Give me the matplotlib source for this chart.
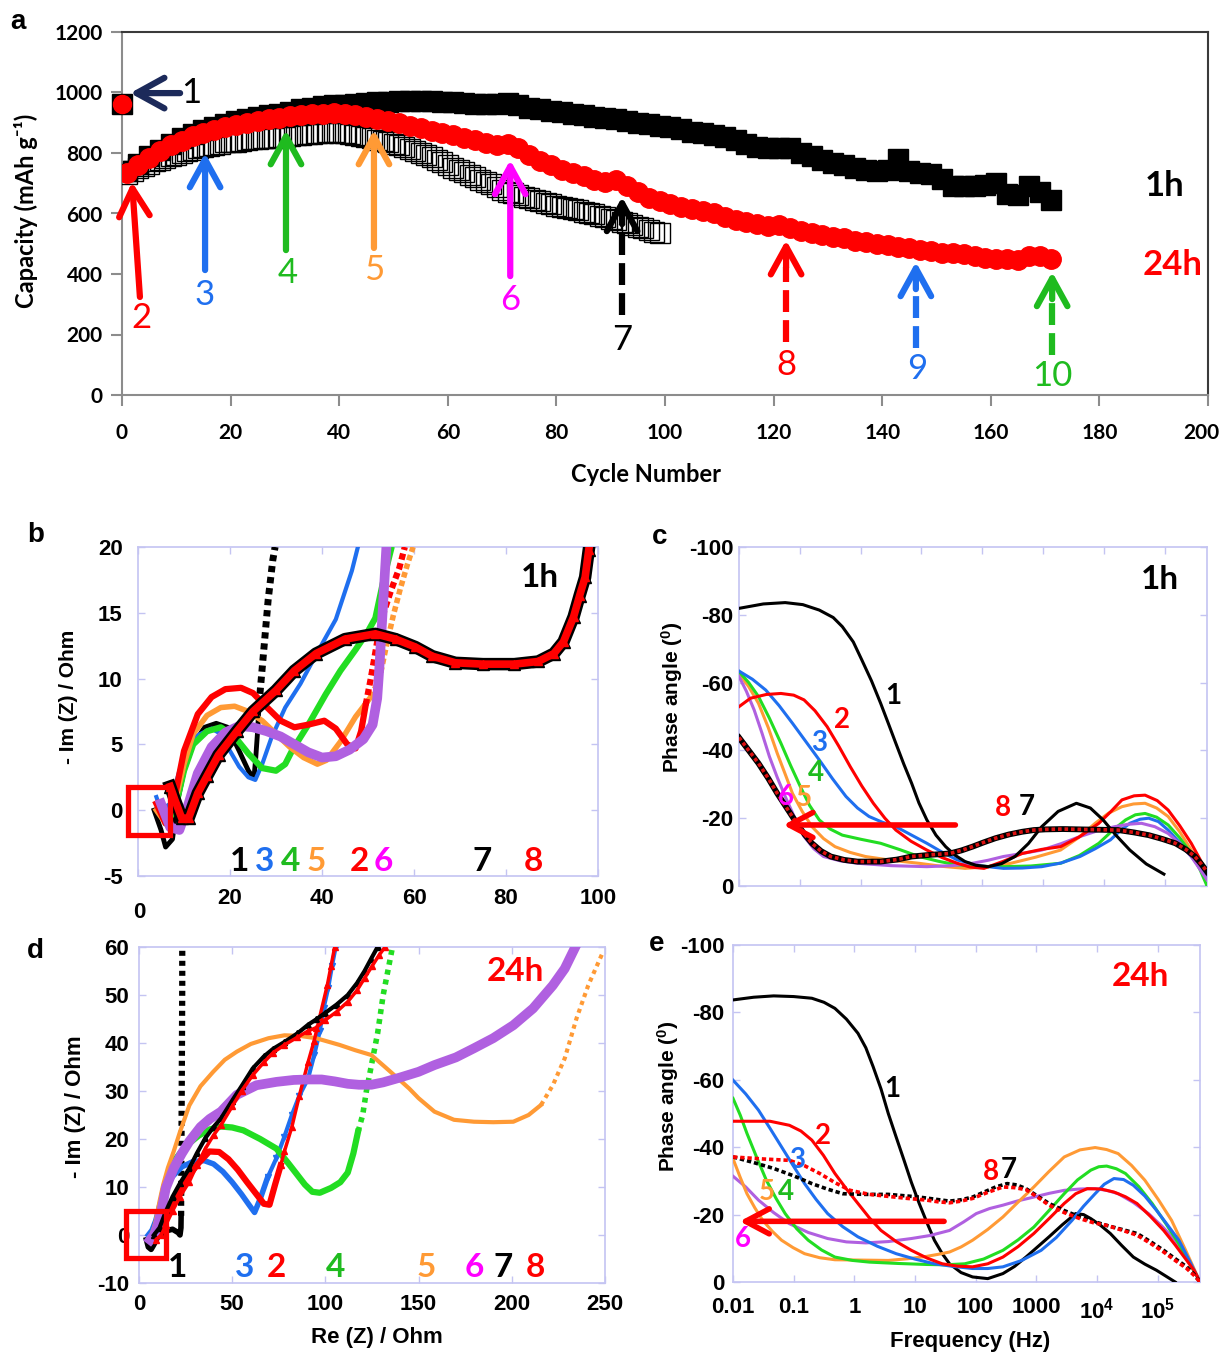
import numpy as np
import matplotlib
matplotlib.use("Agg")
import matplotlib.pyplot as plt
import matplotlib.transforms as mtransforms
from matplotlib.patches import Rectangle
from matplotlib.ticker import NullLocator

plt.rcParams['font.family'] = ['Liberation Sans', 'DejaVu Sans']
plt.rcParams['axes.unicode_minus'] = False
plt.rcParams['mathtext.fontset'] = 'custom'
plt.rcParams['mathtext.rm'] = 'Liberation Sans'
plt.rcParams['mathtext.bf'] = 'Liberation Sans:bold'

CAL = ['Lato', 'DejaVu Sans']
ARI = ['Liberation Sans', 'DejaVu Sans']

BLACK = '#000000'
RED = '#ff0000'
BLUE = '#1f6fef'
GREEN = '#22dd22'
GREEN_T = '#1fbb1f'
ORANGE = '#ff9a35'
MAGENTA = '#ff00ff'
PURPLE = '#b060e0'
NAVY = '#1c2a5a'
FRAME = '#c4c4f2'

# ---------------- panel a: capacity vs cycle ----------------
first_cycle = 0
first_1h = 962
first_24h = 962
cyc_odd = list(range(1, 172, 2))
cap_1h = [740, 765, 790, 810, 830, 848, 862, 875, 886, 896,
          905, 912, 918, 924, 930, 936, 945, 950, 955, 958,
          960, 962, 965, 967, 970, 972, 972, 973, 972, 970,
          968, 965, 963, 962, 962, 965, 958, 950, 945, 940,
          935, 930, 925, 920, 915, 912, 906, 900, 895, 890,
          885, 878, 870, 865, 860, 852, 842, 830, 820, 815,
          818, 815, 800, 790, 778, 768, 760, 752, 745, 740,
          745, 780, 740, 735, 730, 715, 690, 690, 692, 695,
          700, 665, 660, 690, 670, 645]
cap_24h = [735, 760, 785, 805, 825, 840, 855, 866, 876, 885,
           893, 900, 906, 912, 917, 921, 925, 928, 930, 931,
           930, 926, 920, 914, 905, 898, 890, 882, 874, 866,
           858, 850, 842, 833, 825, 830, 815, 795, 775, 760,
           745, 735, 725, 712, 705, 710, 690, 670, 652, 640,
           630, 622, 615, 607, 600, 590, 580, 572, 565, 560,
           562, 553, 543, 535, 530, 523, 518, 510, 505, 500,
           496, 490, 485, 480, 476, 470, 468, 465, 460, 452,
           448, 450, 445, 460, 458, 450]
cyc_open = list(range(1, 100))
cap_open = [730, 740, 750, 758, 765, 772, 778, 784, 790, 795,
            800, 805, 810, 815, 819, 823, 827, 831, 835, 838,
            838, 841, 843, 845, 847, 849, 850, 851, 852, 854,
            856, 858, 860, 862, 864, 866, 867, 868, 868, 867,
            865, 862, 859, 856, 852, 848, 844, 840, 835, 830,
            826, 820, 813, 806, 800, 795, 786, 778, 770, 760,
            752, 744, 736, 728, 720, 712, 704, 696, 688, 678,
            672, 667, 661, 655, 650, 645, 640, 635, 630, 626,
            622, 618, 614, 610, 606, 602, 598, 593, 588, 583,
            578, 572, 567, 562, 556, 551, 546, 540, 535]

arrow_labels = ['2', '3', '4', '5', '6', '7', '8', '9', '10']
arrow_colors = [RED, BLUE, GREEN_T, ORANGE, MAGENTA, BLACK, RED, BLUE, GREEN_T]
arrow_x_tail = [3.3, 15.3, 30.2, 46.4, 71.5, 92.1, 122.3, 146.2, 171.3]
arrow_x_tip = [1.85, 15.3, 30.2, 46.4, 71.5, 92.1, 122.3, 146.2, 171.3]
arrow_tail = [324, 413, 479, 486, 393, 264, 175, 155, 132]
arrow_tip = [704, 800, 876, 876, 777, 655, 512, 440, 407]
arrow_label_x = [3.5, 15.3, 30.5, 46.4, 71.5, 92.1, 122.3, 146.4, 171.3]
arrow_label_y = [255, 330, 403, 413, 314, 182, 99, 86, 63]
arrow_dashed = [False, False, False, False, False, True, True, True, True]

# ---------------- panel b: Nyquist 1h ----------------
B1 = [(3.5, 0.0), (5, -1.5), (6, -2.8), (7.5, -2.2), (8.5, 0.5), (10, 3.0), (12, 5.0),
      (14.5, 6.3), (17, 6.6), (19.5, 6.3), (22, 4.5), (24, 3.0), (25.2, 2.4), (25.6, 4.0),
      (26, 6.0), (26.3, 8.0), (26.8, 10.0), (27.3, 12.0), (27.8, 14.0), (28.3, 16.0),
      (28.8, 17.5), (29.3, 19.0), (29.8, 20.0)]
B3 = [(4, 1.0), (5, 0.0), (7, 0.5), (9, 3.0), (11, 4.8), (13, 5.7), (16, 6.2), (18, 5.8),
      (20, 4.5), (22, 3.3), (24, 2.5), (25.5, 2.3), (27, 3.5), (29, 5.5), (32, 7.8),
      (35.3, 9.6), (39, 12.0), (43, 14.5), (46.5, 18.2), (47.8, 20.0)]
B4 = [(4.5, 0.5), (6, -1.0), (8, 0.0), (10, 3.0), (12, 5.0), (15, 6.0), (18, 6.3), (21, 5.6),
      (24, 4.3), (27, 3.2), (30, 3.0), (32, 3.5), (33.6, 4.6), (37.2, 6.6), (40.8, 8.8),
      (44, 10.6), (47.3, 12.2), (50, 13.6), (51.6, 14.6), (53.5, 17.7), (55, 19.8)]
B5 = [(4, 0.0), (6, -1.0), (8, 0.5), (10, 3.5), (12, 5.8), (15, 7.2), (18, 7.8), (21, 7.9),
      (24, 7.5), (27, 6.8), (30, 5.8), (33, 4.8), (36, 4.0), (39, 3.5), (41, 3.8), (44, 5.2),
      (47.3, 7.1), (50.6, 8.6), (52.5, 10.0), (54, 12.5), (55.5, 14.8), (57, 16.8),
      (58.5, 18.6), (59.8, 20.0)]
B2 = [(4, 0.5), (6, -1.0), (8, 1.0), (10, 4.5), (13, 7.3), (16, 8.6), (19, 9.2), (22.4, 9.3),
      (25, 8.9), (27.8, 7.9), (31, 6.8), (34, 6.3), (37, 6.5), (40.5, 6.8), (43, 6.2),
      (45.5, 5.0), (47.3, 4.7), (48.5, 6.0), (49.5, 8.0), (50.6, 10.0), (52, 12.8),
      (53.5, 15.1), (55, 16.7), (56.8, 18.4), (58, 20.0)]
B6 = [(5, 0.5), (7, -1.3), (9, -1.5), (11, 0.5), (13, 2.8), (16, 4.8), (19, 5.9), (22, 6.4),
      (25, 6.3), (28, 6.0), (31, 5.6), (34, 5.0), (37, 4.4), (40, 4.0), (43, 4.1), (46, 4.6),
      (49, 5.4), (51, 6.5), (52, 8.5), (52.5, 11.0), (53, 14.0), (53.5, 17.0), (54, 20.0)]
B7 = [(7, 1.8), (8, 0.8), (9.5, -0.6), (11, -0.6), (13, 1.3), (15, 2.6), (17.5, 4.2),
      (21.5, 6.0), (25, 7.5), (30, 9.1), (34, 10.6), (38.7, 11.9), (45, 13.0), (51.6, 13.4),
      (56, 13.0), (60.3, 12.4), (64, 11.7), (69, 11.2), (75, 11.1), (81.8, 11.1), (87, 11.3),
      (90.4, 11.9), (92.5, 12.8), (94.7, 14.7), (96, 16.3), (97.2, 17.7), (98, 19.8)]
B8 = list(B7)
b_lab_text = ['1', '3', '4', '5', '2', '6', '7', '8']
b_lab_col = [BLACK, BLUE, GREEN_T, ORANGE, RED, MAGENTA, BLACK, RED]
b_lab_x = [22, 27.6, 33.2, 38.7, 48.2, 53.3, 74.8, 86]

# ---------------- panel c: Bode phase 1h (log10 f, phase) ----------------
C1 = [(-2.0, -81.9), (-1.6, -83.2), (-1.24, -83.6), (-0.95, -83.0), (-0.68, -81.4), (-0.45, -79.2),
      (-0.30, -76.5), (-0.12, -72.0), (0.02, -66.7), (0.18, -60.5), (0.33, -53.9), (0.46, -47.8),
      (0.58, -42.1), (0.71, -36.0), (0.84, -30.3), (0.96, -24.5), (1.09, -19.5), (1.24, -15.0),
      (1.40, -11.6), (1.56, -9.0), (1.72, -7.2), (1.90, -6.1), (2.10, -5.7), (2.32, -6.6),
      (2.54, -8.7), (2.76, -12.5), (2.98, -17.5), (3.25, -22.0), (3.55, -24.4), (3.78, -23.0),
      (3.99, -19.5), (4.2, -15.0), (4.43, -10.6), (4.7, -6.5), (4.99, -3.5)]
C2 = [(-2.0, -52.9), (-1.81, -55.4), (-1.55, -56.5), (-1.31, -56.8), (-1.1, -56.3), (-0.93, -54.9),
      (-0.75, -51.7), (-0.55, -47.0), (-0.36, -41.3), (-0.17, -35.2), (0.02, -29.5), (0.21, -24.4),
      (0.40, -20.0), (0.58, -16.5), (0.83, -13.2), (1.09, -10.6), (1.34, -8.4), (1.59, -6.7),
      (1.8, -5.6), (2.03, -5.2), (2.35, -7.3), (2.66, -9.6), (2.98, -10.8), (3.29, -11.6),
      (3.6, -14.5), (3.92, -18.5), (4.12, -22.0), (4.30, -25.4), (4.50, -26.6), (4.68, -26.8),
      (4.88, -25.2), (5.06, -22.4), (5.25, -17.8), (5.44, -12.6), (5.58, -8.0), (5.70, -3.7)]
C3 = [(-2.0, -63.4), (-1.78, -61.0), (-1.56, -57.8), (-1.34, -53.2), (-1.12, -48.0), (-0.9, -42.6),
      (-0.68, -37.2), (-0.46, -31.6), (-0.24, -26.4), (-0.05, -23.0), (0.14, -20.5), (0.36, -18.8),
      (0.58, -17.5), (0.84, -15.0), (1.09, -12.6), (1.34, -10.0), (1.59, -7.7), (1.95, -6.0),
      (2.35, -5.2), (2.66, -5.3), (2.98, -5.7), (3.3, -6.8), (3.61, -8.7), (3.86, -11.0),
      (4.11, -13.6), (4.27, -16.3), (4.43, -18.5), (4.6, -19.7), (4.74, -20.0), (4.9, -19.0),
      (5.06, -16.5), (5.25, -12.8), (5.44, -8.7), (5.58, -5.5), (5.70, -2.8)]
C4 = [(-2.0, -63.2), (-1.84, -60.0), (-1.68, -55.9), (-1.5, -49.5), (-1.31, -42.1), (-1.15, -35.5),
      (-0.99, -29.3), (-0.84, -23.8), (-0.68, -19.5), (-0.5, -16.8), (-0.30, -15.0), (0.0, -13.8),
      (0.33, -12.6), (0.65, -10.7), (0.96, -8.7), (1.28, -7.3), (1.59, -6.2), (1.95, -5.8),
      (2.35, -5.7), (2.8, -5.9), (3.29, -6.7), (3.6, -9.0), (3.92, -12.6), (4.14, -16.3),
      (4.36, -19.5), (4.52, -21.0), (4.68, -21.4), (4.87, -20.3), (5.06, -18.0), (5.25, -14.2),
      (5.44, -9.6), (5.58, -5.0), (5.70, 0.0)]
C5 = [(-2.0, -62.7), (-1.84, -58.8), (-1.68, -53.9), (-1.52, -46.8), (-1.37, -39.1), (-1.24, -33.0),
      (-1.12, -27.3), (-0.96, -22.0), (-0.80, -17.5), (-0.61, -14.0), (-0.42, -11.6), (-0.17, -9.9),
      (0.08, -8.7), (0.5, -7.6), (0.96, -6.7), (1.34, -5.8), (1.72, -5.2), (2.1, -5.7),
      (2.47, -6.7), (2.88, -8.5), (3.29, -10.6), (3.58, -14.2), (3.86, -18.5), (4.08, -21.5),
      (4.30, -23.4), (4.49, -24.2), (4.68, -24.4), (4.87, -23.0), (5.06, -20.5), (5.25, -16.0),
      (5.44, -10.6), (5.58, -6.5), (5.70, -2.8)]
C6 = [(-2.0, -61.8), (-1.88, -57.5), (-1.75, -51.9), (-1.62, -45.0), (-1.50, -38.2), (-1.37, -32.0),
      (-1.24, -26.4), (-1.08, -20.0), (-0.93, -14.6), (-0.77, -11.0), (-0.61, -8.7), (-0.33, -7.4),
      (-0.05, -6.7), (0.5, -6.0), (1.09, -5.7), (1.5, -6.0), (1.84, -6.7), (2.1, -7.6),
      (2.35, -8.7), (2.66, -9.6), (2.98, -10.6), (3.3, -12.5), (3.61, -14.6), (3.9, -16.3),
      (4.18, -17.5), (4.4, -18.2), (4.62, -18.5), (4.84, -17.5), (5.06, -15.5), (5.25, -12.5),
      (5.44, -8.7), (5.58, -5.0), (5.70, -1.8)]
C78 = [(-2.0, -43.8), (-1.84, -40.0), (-1.68, -36.2), (-1.52, -31.8), (-1.37, -27.3), (-1.21, -22.9),
       (-1.05, -18.5), (-0.92, -15.2), (-0.80, -12.6), (-0.65, -10.3), (-0.49, -8.7), (-0.27, -7.7),
       (-0.05, -7.2), (0.33, -7.2), (0.6, -7.8), (0.84, -8.7), (1.15, -9.2), (1.47, -9.6),
       (1.66, -10.5), (1.84, -11.6), (2.03, -12.9), (2.22, -14.1), (2.44, -15.2), (2.66, -16.0),
       (2.85, -16.5), (3.04, -16.7), (3.33, -16.8), (3.61, -16.7), (3.92, -16.6), (4.24, -16.5),
       (4.5, -15.8), (4.74, -15.0), (4.96, -13.9), (5.18, -12.6), (5.35, -10.8), (5.50, -8.7),
       (5.6, -6.6), (5.70, -4.2)]
c_lab_text = ['1', '2', '3', '4', '6', '5', '8', '7']
c_lab_col = [BLACK, RED, BLUE, GREEN_T, MAGENTA, ORANGE, RED, BLACK]
c_lab_lf = [0.53, -0.30, -0.68, -0.74, -1.23, -0.93, 2.35, 2.73]
c_lab_p = [-55.9, -49.0, -42.1, -33.2, -26.4, -25.9, -22.9, -23.4]

# ---------------- panel d: Nyquist 24h ----------------
D1 = [(4, -1.0), (5, -2.5), (6.5, -3.0), (8, -2.0), (10, -0.5), (14, 0.8), (18, 1.2), (21, 0.5),
      (22, 0.0), (22.5, 1.5), (22.6, 4.0), (22.6, 7.0), (22.7, 13.0), (22.8, 20.0), (22.9, 28.0),
      (23.0, 36.0), (23.1, 44.0), (23.2, 52.0), (23.2, 60.0)]
D3 = [(5, 0.0), (7, 1.0), (9, 3.0), (11, 6.0), (14, 9.5), (18, 12.2), (23, 14.2), (29, 15.3),
      (35, 15.5), (40, 14.8), (45, 13.2), (50, 11.0), (55, 8.5), (59, 6.3), (62, 4.7), (65, 7.5),
      (69, 12.0), (73.7, 16.0), (78, 20.5), (82, 25.0), (86, 29.0), (90.7, 32.6), (94, 37.5),
      (97, 42.5), (99, 47.2), (101.5, 51.5), (103.5, 56.0), (105.5, 60.0)]
D2 = [(6, -1.0), (9, 0.0), (12, 1.5), (14.4, 3.5), (18, 6.5), (22, 9.5), (27, 12.5), (32, 15.0),
      (37.7, 17.4), (43, 17.3), (48, 15.8), (53, 13.6), (58, 11.0), (63, 8.5), (67, 6.5),
      (70, 6.3), (73, 10.5), (76, 14.5), (78, 17.4), (82, 22.5), (86, 29.0), (90.7, 36.0),
      (94, 40.5), (97, 45.5), (101, 52.0), (103, 56.0), (105, 60.0)]
D4 = [(7, 0.0), (9, 2.0), (11, 5.0), (13, 9.0), (15, 12.0), (19, 15.5), (25, 18.5), (32, 20.7),
      (38, 22.0), (44, 22.6), (50, 22.4), (56, 21.8), (65, 20.0), (73.7, 18.0), (80, 15.0),
      (85, 12.5), (89, 10.5), (93, 9.0), (97, 8.8), (103, 9.8), (108, 11.0), (112, 13.0),
      (115, 17.0), (117.5, 21.5), (120, 25.0), (122, 30.0), (124, 34.0), (126, 38.0),
      (128, 42.0), (129.5, 46.0), (131, 50.0), (133, 54.0), (135, 58.0), (136, 60.0)]
D5 = [(7, 0.0), (9, 3.0), (11, 7.0), (13, 10.5), (15.5, 14.0), (18.6, 17.4), (22, 21.5), (27, 27.0),
      (33, 31.0), (39.8, 34.0), (46, 36.5), (52.5, 38.2), (60, 39.8), (69.5, 41.0), (78, 41.6),
      (86, 41.5), (95, 41.0), (107.6, 39.6), (116, 38.5), (124.6, 37.5), (132, 35.0),
      (139, 32.6), (145, 30.5), (150, 28.5), (158.5, 25.7), (169, 24.0), (179.7, 23.6),
      (190, 23.5), (200.8, 23.6), (209, 25.0), (215.7, 27.1), (222, 31.2), (228.4, 36.8),
      (234.7, 45.1), (241, 52.0), (248.5, 58.6)]
D6 = [(6, -1.0), (8, 0.0), (10, 2.0), (12, 5.0), (14.4, 9.8), (18.6, 13.9), (23, 17.0), (27, 19.5),
      (33, 22.5), (38, 24.2), (44, 25.7), (52.5, 29.2), (63, 31.2), (73.7, 31.9), (83, 32.3),
      (90.7, 32.4), (98, 32.4), (105, 32.0), (112, 31.5), (118, 31.3), (124.6, 31.3),
      (131, 31.8), (140, 32.8), (150, 34.0), (158.5, 35.4), (170, 37.0), (179.7, 38.9),
      (190, 41.0), (200.8, 43.7), (211.4, 47.2), (222, 52.0), (228.4, 55.5), (233.7, 59.7)]
D7 = [(8, 0.0), (11, 1.5), (14.4, 4.9), (18, 8.0), (22, 10.8), (27, 13.9), (31, 17.0), (35.6, 20.2),
      (40, 22.5), (44, 24.3), (50, 28.0), (55, 31.0), (61, 34.7), (67, 37.2), (72, 38.8),
      (78, 40.2), (85, 42.0), (90.7, 43.8), (95, 44.9), (100, 46.3), (106, 48.0), (112, 50.0),
      (117, 52.5), (121, 55.0), (124.6, 57.6), (128, 60.0)]
D8 = [(9, -1.0), (12, 0.0), (14.4, 2.1), (18, 5.0), (22, 8.0), (27, 11.1), (31, 14.5), (35.6, 18.0),
      (40, 20.8), (44, 22.9), (50, 26.8), (55, 30.0), (61, 33.3), (67, 36.0), (72, 38.0),
      (78, 39.6), (85, 41.2), (90.7, 42.5), (95, 43.2), (100, 44.8), (106, 46.5), (112, 48.6),
      (117, 51.0), (121, 53.5), (125, 56.0), (128.8, 58.3), (132, 60.0)]
d_lab_text = ['1', '3', '2', '4', '5', '6', '7', '8']
d_lab_col = [BLACK, BLUE, RED, GREEN_T, ORANGE, MAGENTA, BLACK, RED]
d_lab_x = [20.8, 56.8, 73.7, 105.5, 154, 179.7, 195.5, 212.5]

# ---------------- panel e: Bode phase 24h ----------------
E1 = [(-2.0, -83.7), (-1.66, -84.5), (-1.33, -84.9), (-1.0, -84.7), (-0.70, -84.2), (-0.5, -83.0),
      (-0.32, -81.2), (-0.13, -78.0), (0.06, -73.8), (0.19, -69.5), (0.31, -63.9), (0.44, -57.3),
      (0.56, -50.0), (0.69, -43.0), (0.82, -36.1), (0.94, -29.6), (1.07, -23.3), (1.2, -17.5),
      (1.32, -12.4), (1.45, -8.4), (1.57, -5.4), (1.76, -2.8), (1.95, -1.5), (2.2, -1.0),
      (2.45, -2.5), (2.64, -4.6), (2.83, -7.4), (3.02, -10.4), (3.21, -13.4), (3.43, -17.0),
      (3.65, -20.3), (3.78, -20.0), (3.90, -18.8), (4.06, -16.8), (4.22, -14.4), (4.41, -10.8),
      (4.6, -7.4), (4.79, -5.3), (4.98, -3.5), (5.14, -1.7), (5.29, 0.0)]
E2 = [(-2.0, -47.7), (-1.7, -47.7), (-1.39, -47.7), (-1.07, -46.5), (-0.88, -44.8), (-0.70, -42.1),
      (-0.51, -37.6), (-0.32, -32.2), (-0.13, -27.6), (0.06, -23.3), (0.25, -19.0), (0.44, -15.3),
      (0.69, -12.0), (0.94, -9.4), (1.2, -7.1), (1.45, -5.4), (1.7, -4.7), (1.95, -4.5),
      (2.2, -5.4), (2.45, -7.4), (2.7, -10.5), (2.96, -14.4), (3.21, -18.8), (3.46, -23.3),
      (3.65, -26.2), (3.84, -27.7), (4.06, -27.6), (4.28, -26.7), (4.47, -25.3), (4.66, -23.3),
      (4.88, -19.5), (5.10, -15.3), (5.29, -11.0), (5.48, -6.4), (5.6, -3.5), (5.70, 0.0)]
E3 = [(-2.0, -59.9), (-1.79, -55.8), (-1.58, -51.0), (-1.39, -45.6), (-1.20, -40.1), (-1.01, -34.6),
      (-0.82, -29.2), (-0.63, -24.5), (-0.44, -20.3), (-0.19, -16.4), (0.06, -13.4), (0.38, -10.6),
      (0.69, -8.4), (1.0, -6.8), (1.32, -5.4), (1.64, -4.6), (1.95, -4.0), (2.2, -4.0),
      (2.45, -4.5), (2.76, -6.4), (3.08, -9.4), (3.33, -13.2), (3.59, -18.3), (3.78, -22.5),
      (3.97, -26.2), (4.12, -29.0), (4.28, -30.7), (4.44, -30.4), (4.60, -28.7), (4.79, -25.5),
      (4.98, -21.3), (5.16, -17.0), (5.35, -12.4), (5.52, -6.5), (5.70, 0.0)]
E4 = [(-2.0, -54.5), (-1.88, -49.5), (-1.77, -44.1), (-1.61, -37.0), (-1.45, -30.2), (-1.29, -24.8),
      (-1.14, -20.3), (-0.95, -15.8), (-0.76, -12.4), (-0.54, -9.5), (-0.32, -7.4), (-0.03, -6.4),
      (0.25, -5.9), (0.72, -5.5), (1.19, -5.2), (1.5, -5.1), (1.82, -5.4), (2.13, -6.8),
      (2.45, -9.4), (2.7, -12.5), (2.96, -16.3), (3.21, -21.2), (3.46, -26.2), (3.68, -30.3),
      (3.90, -33.2), (4.03, -34.2), (4.16, -34.4), (4.32, -33.6), (4.47, -32.2), (4.69, -28.3),
      (4.91, -23.3), (5.13, -17.5), (5.35, -11.4), (5.52, -5.8), (5.70, 0.0)]
E5 = [(-2.0, -36.6), (-1.88, -31.0), (-1.77, -26.2), (-1.64, -22.0), (-1.51, -18.3), (-1.35, -15.0),
      (-1.20, -12.4), (-1.01, -10.2), (-0.82, -8.4), (-0.57, -7.2), (-0.32, -6.6), (0.12, -6.5),
      (0.56, -6.4), (0.88, -6.9), (1.19, -7.6), (1.38, -8.2), (1.57, -8.9), (1.76, -10.4),
      (1.95, -12.4), (2.2, -15.6), (2.45, -19.3), (2.7, -23.7), (2.96, -28.2), (3.21, -32.8),
      (3.46, -37.1), (3.72, -39.2), (3.97, -39.9), (4.16, -39.3), (4.35, -38.1), (4.57, -34.6),
      (4.79, -30.2), (5.01, -24.5), (5.23, -18.3), (5.46, -9.5), (5.70, 0.0)]
E6 = [(-2.0, -31.4), (-1.79, -28.2), (-1.58, -24.3), (-1.33, -20.6), (-1.07, -17.3), (-0.76, -14.7),
      (-0.44, -12.9), (-0.13, -11.9), (0.19, -11.6), (0.56, -12.0), (0.94, -12.9), (1.25, -13.8),
      (1.57, -15.3), (1.8, -17.8), (2.01, -20.3), (2.23, -21.8), (2.45, -22.8), (2.7, -24.1),
      (2.96, -25.2), (3.21, -26.3), (3.46, -27.2), (3.72, -27.6), (3.97, -27.7), (4.16, -27.2),
      (4.35, -26.2), (4.6, -23.6), (4.85, -20.3), (5.07, -16.6), (5.29, -12.4), (5.5, -6.5),
      (5.70, 0.0)]
E7 = [(-2.0, -37.1), (-1.67, -35.5), (-1.33, -33.7), (-1.0, -31.5), (-0.70, -29.2), (-0.45, -27.6),
      (-0.19, -26.2), (0.18, -26.0), (0.56, -26.0), (0.82, -25.6), (1.07, -25.2), (1.32, -24.6),
      (1.57, -24.0), (1.76, -24.4), (1.95, -25.2), (2.14, -26.7), (2.33, -28.2), (2.52, -29.2),
      (2.68, -28.8), (2.83, -27.7), (3.02, -25.5), (3.21, -23.3), (3.46, -21.2), (3.72, -19.3),
      (3.94, -18.0), (4.16, -16.8), (4.41, -15.6), (4.66, -14.4), (4.88, -12.0), (5.10, -9.4),
      (5.29, -6.9), (5.48, -4.5), (5.6, -2.3), (5.70, 0.0)]
E8 = [(-2.0, -37.1), (-1.5, -36.5), (-1.07, -36.1), (-0.82, -34.5), (-0.57, -32.2), (-0.32, -29.5),
      (-0.07, -27.2), (0.25, -26.0), (0.56, -25.4), (0.88, -24.8), (1.19, -24.3), (1.38, -23.8),
      (1.57, -23.5), (1.76, -24.0), (1.95, -24.8), (2.2, -26.6), (2.45, -28.2), (2.64, -28.0),
      (2.83, -27.4), (3.02, -25.2), (3.21, -22.8), (3.46, -20.6), (3.72, -18.8), (3.94, -17.6),
      (4.16, -16.8), (4.41, -15.4), (4.66, -13.9), (4.88, -11.5), (5.10, -8.9), (5.29, -6.4),
      (5.48, -4.0), (5.6, -2.0), (5.70, 0.0)]
e_lab_text = ['1', '2', '3', '5', '4', '6', '8', '7']
e_lab_col = [BLACK, RED, BLUE, ORANGE, GREEN_T, MAGENTA, RED, BLACK]
e_lab_lf = [0.63, -0.51, -0.94, -1.45, -1.12, -1.84, 2.25, 2.55]
e_lab_p = [-57.4, -43.3, -36.3, -26.7, -26.7, -12.9, -32.7, -33.2]
freq_ticks = [1e-2, 1e-1, 1, 10, 100, 1000, 1e4, 1e5]
freq_labels = ['0.01', '0.1', '1', '10', '100', '1000', r'$\mathbf{10^{4}}$', r'$\mathbf{10^{5}}$']

W, H = 1221, 1352


def box(l, t, r, b):
    return [l / W, 1 - b / H, (r - l) / W, (b - t) / H]


def ftext(fig, px, py, s, **kw):
    fig.text(px / W, 1 - py / H, s, ha='center', va='center', **kw)


def xy(curve):
    a = np.array(curve, dtype=float)
    return a[:, 0], a[:, 1]


def fxy(curve):
    a = np.array(curve, dtype=float)
    return 10 ** a[:, 0], a[:, 1]


def frame(ax, pad_x, pad_y):
    for s in ax.spines.values():
        s.set_color(FRAME)
        s.set_linewidth(1.2)
    ax.tick_params(which='both', direction='in', length=5, width=1, color=FRAME,
                   top=True, right=True, labelsize=16)
    ax.tick_params(axis='x', pad=pad_x)
    ax.tick_params(axis='y', pad=pad_y)
    for lbl in ax.get_xticklabels() + ax.get_yticklabels():
        lbl.set_fontweight('bold')


def main():
    fig = plt.figure(figsize=(W / 100, H / 100), dpi=100)
    ax_a = fig.add_axes(box(122, 32, 1208, 395))
    ax_b = fig.add_axes(box(138, 547, 598, 876))
    ax_c = fig.add_axes(box(739, 547, 1207, 886))
    ax_d = fig.add_axes(box(139, 947, 605, 1283))
    ax_e = fig.add_axes(box(733, 945, 1200, 1282))

    # ---- a ----
    ax = ax_a
    ax.plot(cyc_odd, cap_1h, 's', color=BLACK, ms=15, zorder=2)
    ax.plot(cyc_open, cap_open, 's', mfc='none', mec=BLACK, ms=14, mew=1.0, zorder=3)
    ax.plot(cyc_odd, cap_24h, 'o', color=RED, ms=14, mec=RED, zorder=4)
    ax.plot([first_cycle], [first_1h], 's', color=BLACK, ms=15, clip_on=False, zorder=5)
    ax.plot([first_cycle], [first_24h], 'o', color=RED, ms=13, clip_on=False, zorder=6)
    ax.set_xlim(0, 200)
    ax.set_ylim(0, 1200)
    ax.set_xticks(range(0, 201, 20))
    ax.set_yticks(range(0, 1201, 200))
    for s in ['left', 'bottom']:
        ax.spines[s].set_color('#8c8c8c')
    for s in ['top', 'right']:
        ax.spines[s].set_color('#3a3a3a')
    for s in ax.spines.values():
        s.set_linewidth(1.5)
    ax.tick_params(direction='out', length=8, width=1.5, color='#8c8c8c', labelsize=15)
    ax.tick_params(axis='x', pad=12)
    ax.tick_params(axis='y', pad=6)
    for lbl in ax.get_xticklabels() + ax.get_yticklabels():
        lbl.set_fontfamily(CAL)
        lbl.set_fontweight('bold')
    last = ax.get_xticklabels()[-1]
    last.set_transform(last.get_transform() +
                       mtransforms.ScaledTranslation(-7 / 100, 0, fig.dpi_scale_trans))

    hstyle = 'head_length=1.0,head_width=0.55'
    ax.annotate('', xy=(1.5, 998), xytext=(10.7, 998), zorder=8,
                arrowprops=dict(arrowstyle='->,' + hstyle, lw=4.5, color=NAVY,
                                shrinkA=0, shrinkB=0, mutation_scale=20))
    ax.text(12.7, 998, '1', fontsize=25, family=CAL, color=BLACK, ha='center', va='center')
    for i in range(len(arrow_labels)):
        col = arrow_colors[i]
        if arrow_dashed[i]:
            ax.plot([arrow_x_tail[i], arrow_x_tip[i]], [arrow_tail[i], arrow_tip[i] - 90],
                    color=col, lw=4.5, ls=(0, (3.5, 1.3)), solid_capstyle='butt', zorder=8)
            ax.annotate('', xy=(arrow_x_tip[i], arrow_tip[i]),
                        xytext=(arrow_x_tip[i], arrow_tip[i] - 90), zorder=8,
                        arrowprops=dict(arrowstyle='->,' + hstyle, lw=4.5, color=col,
                                        shrinkA=0, shrinkB=0, mutation_scale=20))
        else:
            ax.annotate('', xy=(arrow_x_tip[i], arrow_tip[i]),
                        xytext=(arrow_x_tail[i], arrow_tail[i]), zorder=8,
                        arrowprops=dict(arrowstyle='->,' + hstyle, lw=4.5, color=col,
                                        shrinkA=0, shrinkB=0, mutation_scale=20))
        ax.text(arrow_label_x[i], arrow_label_y[i], arrow_labels[i], fontsize=25, family=CAL,
                color=col, ha='center', va='center', zorder=9)
    ax.text(192, 691, '1h', fontsize=25, family=CAL, weight='bold', color=BLACK,
            ha='center', va='center')
    ax.text(193.4, 430, '24h', fontsize=25, family=CAL, weight='bold', color=RED,
            ha='center', va='center')
    ftext(fig, 26, 211, 'Capacity (mAh g\u207b\u00b9)', fontsize=17, family=CAL,
          weight='bold', rotation=90)
    ftext(fig, 646, 474, 'Cycle Number', fontsize=17, family=CAL, weight='bold')

    # ---- b ----
    ax = ax_b
    x, y = xy(B1)
    ax.plot(x[:16], y[:16], color=BLACK, lw=3.5, zorder=3)
    ax.plot(x[15:], y[15:], color=BLACK, lw=5, ls=(0, (0.9, 0.7)), zorder=3)
    x, y = xy(B3)
    ax.plot(x, y, color=BLUE, lw=3, zorder=3)
    x, y = xy(B4)
    ax.plot(x, y, color=GREEN, lw=4.5, zorder=3)
    x, y = xy(B5)
    ax.plot(x[:18], y[:18], color=ORANGE, lw=4, zorder=3)
    ax.plot(x[17:], y[17:], color=ORANGE, lw=4, ls=(0, (1, 0.6)), zorder=3)
    x, y = xy(B2)
    ax.plot(x[:19], y[:19], color=RED, lw=4.5, zorder=4)
    ax.plot(x[18:], y[18:], color=RED, lw=4.5, ls=(0, (1, 0.6)), zorder=4)
    x, y = xy(B6)
    ax.plot(x, y, color=PURPLE, lw=7, zorder=4)
    x, y = xy(B7)
    ax.plot(x, y, color=BLACK, lw=9, marker='^', ms=8, zorder=5)
    x, y = xy(B8)
    ax.plot(x, y, color=RED, lw=5.5, marker='^', ms=6, zorder=6)
    ax.add_patch(Rectangle((-2.2, -1.9), 9.2, 3.7, fill=False, ec=RED, lw=3.8,
                           clip_on=False, zorder=7))
    for t, c, xx in zip(b_lab_text, b_lab_col, b_lab_x):
        ax.text(xx, -3.9, t, fontsize=24, family=CAL, weight='bold', color=c,
                ha='center', va='center')
    ax.text(87.3, 17.7, '1h', fontsize=24, family=CAL, weight='bold', color=BLACK,
            ha='center', va='center')
    ax.set_xlim(0, 100)
    ax.set_ylim(-5, 20)
    ax.set_xticks([0, 20, 40, 60, 80, 100])
    ax.set_xticklabels(['', '20', '40', '60', '80', '100'])
    ax.set_yticks([-5, 0, 5, 10, 15, 20])
    frame(ax, 9, 11)
    ftext(fig, 139, 913, '0', fontsize=16, weight='bold')
    ftext(fig, 69, 697, '- Im (Z) / Ohm', fontsize=15, weight='bold', rotation=90)

    # ---- c ----
    ax = ax_c
    ax.set_xscale('log')
    for curve, col in [(C5, ORANGE), (C4, GREEN), (C3, BLUE), (C6, PURPLE), (C2, RED), (C1, BLACK)]:
        f, p = fxy(curve)
        ax.plot(f, p, color=col, lw=2.2, zorder=3)
    f, p = fxy(C78)
    ax.plot(f, p, color=BLACK, lw=4.2, zorder=4)
    ax.plot(f, p, color='#dd1111', lw=2.6, ls=(0, (1, 0.8)), zorder=5)
    ax.annotate('', xy=(10 ** -1.27, -18), xytext=(10 ** 1.56, -18), zorder=8,
                arrowprops=dict(arrowstyle='->,head_length=0.85,head_width=0.45', lw=4,
                                color=RED, shrinkA=0, shrinkB=0, mutation_scale=20))
    for t, c, lf, p in zip(c_lab_text, c_lab_col, c_lab_lf, c_lab_p):
        ax.text(10 ** lf, p, t, fontsize=20, family=CAL, weight='bold', color=c,
                ha='center', va='center', zorder=9)
    ax.text(10 ** 4.93, -90.3, '1h', fontsize=24, family=CAL, weight='bold', color=BLACK,
            ha='center', va='center')
    ax.set_xlim(1e-2, 5e5)
    ax.set_ylim(0, -100)
    ax.set_xticks(freq_ticks)
    ax.set_xticklabels([])
    ax.xaxis.set_minor_locator(NullLocator())
    ax.set_yticks(range(-100, 1, 20))
    frame(ax, 10, 4)
    ftext(fig, 672, 697, r'Phase angle ($\mathbf{^{0}}$)', fontsize=15, weight='bold',
          rotation=90)

    # ---- d ----
    ax = ax_d
    x, y = xy(D1)
    ax.plot(x[:11], y[:11], color=BLACK, lw=4, zorder=3)
    ax.plot(x[10:], y[10:], color=BLACK, lw=4.5, ls=(0, (0.8, 0.8)), zorder=3)
    x, y = xy(D3)
    ax.plot(x[:17], y[:17], color=BLUE, lw=4, zorder=3)
    ax.plot(x[16:], y[16:], color=BLUE, lw=3, marker='v', ms=4, zorder=3)
    x, y = xy(D2)
    ax.plot(x[:18], y[:18], color=RED, lw=4.5, zorder=4)
    ax.plot(x[17:], y[17:], color=RED, lw=2.5, marker='^', ms=5, zorder=4)
    x, y = xy(D4)
    ax.plot(x[:24], y[:24], color=GREEN, lw=4.5, zorder=3)
    ax.plot(x[23:], y[23:], color=GREEN, lw=4, ls=(0, (0.9, 0.9)), zorder=3)
    x, y = xy(D5)
    ax.plot(x[:31], y[:31], color=ORANGE, lw=3, zorder=3)
    ax.plot(x[30:], y[30:], color=ORANGE, lw=3, ls=(0, (1, 1)), zorder=3)
    x, y = xy(D6)
    ax.plot(x, y, color=PURPLE, lw=7, zorder=4)
    x, y = xy(D7)
    ax.plot(x, y, color=BLACK, lw=3, marker='^', ms=4, zorder=5)
    x, y = xy(D8)
    ax.plot(x, y, color=RED, lw=2.5, marker='^', ms=4, zorder=6)
    ax.add_patch(Rectangle((-7.2, -4.8), 21.6, 9.8, fill=False, ec=RED, lw=3.8,
                           clip_on=False, zorder=7))
    for t, c, xx in zip(d_lab_text, d_lab_col, d_lab_x):
        ax.text(xx, -6.7, t, fontsize=24, family=CAL, weight='bold', color=c,
                ha='center', va='center', zorder=8)
    ax.text(202, 54.8, '24h', fontsize=24, family=CAL, weight='bold', color=RED,
            ha='center', va='center')
    ax.set_xlim(0, 250)
    ax.set_ylim(-10, 60)
    ax.set_xticks(range(0, 251, 50))
    ax.set_yticks(range(-10, 61, 10))
    frame(ax, 8, 7)
    ftext(fig, 75, 1107, '- Im (Z) / Ohm', fontsize=16, weight='bold', rotation=90)
    ftext(fig, 377, 1337, 'Re (Z) / Ohm', fontsize=16, weight='bold')

    # ---- e ----
    ax = ax_e
    ax.set_xscale('log')
    for curve, col in [(E1, BLACK), (E6, PURPLE), (E5, ORANGE), (E4, GREEN), (E3, BLUE), (E2, RED)]:
        f, p = fxy(curve)
        ax.plot(f, p, color=col, lw=2.2, zorder=3)
    f, p = fxy(E7)
    ax.plot(f, p, color=BLACK, lw=2.6, ls=(0, (1.2, 0.8)), zorder=4)
    f, p = fxy(E8)
    ax.plot(f, p, color=RED, lw=2.6, ls=(0, (1.2, 0.8)), zorder=5)
    ax.annotate('', xy=(10 ** -1.89, -18), xytext=(10 ** 1.48, -18), zorder=8,
                arrowprops=dict(arrowstyle='->,head_length=0.85,head_width=0.45', lw=4,
                                color=RED, shrinkA=0, shrinkB=0, mutation_scale=20))
    for t, c, lf, p in zip(e_lab_text, e_lab_col, e_lab_lf, e_lab_p):
        ax.text(10 ** lf, p, t, fontsize=20, family=CAL, weight='bold', color=c,
                ha='center', va='center', zorder=9)
    ax.text(10 ** 4.72, -90.6, '24h', fontsize=24, family=CAL, weight='bold', color=RED,
            ha='center', va='center')
    ax.set_xlim(1e-2, 5e5)
    ax.set_ylim(0, -100)
    ax.set_xticks(freq_ticks)
    ax.set_xticklabels(freq_labels)
    ax.xaxis.set_minor_locator(NullLocator())
    ax.set_yticks(range(-100, 1, 20))
    frame(ax, 11, 6)
    ftext(fig, 668, 1096, r'Phase angle ($\mathbf{^{0}}$)', fontsize=15, weight='bold',
          rotation=90)
    ftext(fig, 970, 1342, 'Frequency (Hz)', fontsize=16, weight='bold')

    # panel letters
    for lt, px, py in [('a', 18, 22), ('b', 36, 535), ('c', 660, 537), ('d', 35, 951),
                       ('e', 657, 944)]:
        ftext(fig, px, py, lt, fontsize=20, weight='bold')

    fig.savefig('out.png', dpi=100)
    plt.close(fig)


if __name__ == '__main__':
    main()
